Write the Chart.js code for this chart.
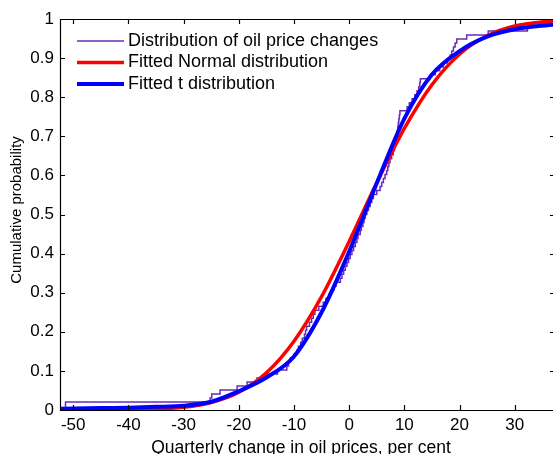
<!DOCTYPE html>
<html>
<head>
<meta charset="utf-8">
<script src="https://cdn.jsdelivr.net/npm/chart.js@4"></script>
<style>
  html, body { margin: 0; padding: 0; background: #fff; overflow: hidden; }
  #wrap { width: 558px; height: 454px; }
</style>
</head>
<body>
<div id="wrap"><canvas id="myChart" width="558" height="454"></canvas></div>
<script>
// tick labels
const xTicks = [-50, -40, -30, -20, -10, 0, 10, 20, 30];
const yTicks = [0, 0.1, 0.2, 0.3, 0.4, 0.5, 0.6, 0.7, 0.8, 0.9, 1];

// sorted quarterly changes, per cent
const oilChanges = [
	-51.4, -25.2, -24.9, -23.4, -20.3, -18.5, -16.7, -14.9, -13.0, -11.3,
	-11.0, -10.7, -10.0, -9.5, -9.2, -8.8, -8.5, -8.1, -7.9, -7.7,
	-7.2, -6.8, -6.5, -6.2, -5.5, -4.7, -4.2, -3.7, -3.3, -2.8,
	-2.4, -1.6, -1.3, -1.0, -0.7, -0.4, -0.1, 0.2, 0.5, 0.8,
	1.1, 1.4, 1.6, 2.0, 2.2, 2.5, 2.7, 2.9, 3.2, 3.5,
	3.8, 4.1, 4.4, 5.0, 5.6, 5.9, 6.2, 6.5, 6.8, 7.0,
	7.2, 7.4, 7.7, 8.0, 8.2, 8.3, 8.5, 8.6, 8.7, 8.8,
	8.9, 9.0, 9.1, 9.2, 10.5, 10.9, 11.4, 11.9, 12.3, 12.6,
	12.8, 12.9, 14.7, 15.6, 16.4, 17.1, 17.8, 18.3, 18.6, 18.9,
	19.2, 19.5, 21.3, 25.2, 32.3, 32.5, 38.6, 44.0
];

// fitted curves, read at these x positions
const fitX      = [-52.4, -45, -40, -35, -30, -25, -20, -15, -10, -5, 0, 5, 10, 15, 20, 25, 30, 37.3];
const normalCdf = [0.00002, 0.0002, 0.0007, 0.0024, 0.0072, 0.0193, 0.0456, 0.095, 0.176, 0.290, 0.431, 0.581, 0.720, 0.832, 0.910, 0.957, 0.982, 0.996];
const tCdf      = [0.003, 0.005, 0.006, 0.008, 0.011, 0.021, 0.048, 0.083, 0.137, 0.25, 0.405, 0.58, 0.745, 0.858, 0.918, 0.955, 0.974, 0.986];

const n = oilChanges.length;
const ecdfPts = [{x: oilChanges[0], y: 0}];
oilChanges.forEach((v, i) => ecdfPts.push({x: v, y: (i + 1) / n}));

const FONT = 'Liberation Sans, Arial, sans-serif';

// box, inward ticks, legend and axis titles, matlab style
const matlabFrame = {
	id: 'matlabFrame',
	afterDatasetsDraw(chart) {
		const {ctx, chartArea: a, scales} = chart;
		const sx = scales.x, sy = scales.y;
		ctx.save();
		ctx.strokeStyle = '#000';
		ctx.lineWidth = 1.2;
		ctx.beginPath();
		ctx.rect(a.left + 0.5, a.top + 0.5, a.right - a.left, a.bottom - a.top);
		xTicks.forEach(v => {
			const px = Math.round(sx.getPixelForValue(v)) + 0.5;
			ctx.moveTo(px, a.bottom); ctx.lineTo(px, a.bottom - 5);
			ctx.moveTo(px, a.top); ctx.lineTo(px, a.top + 5);
		});
		yTicks.forEach(v => {
			const py = Math.round(sy.getPixelForValue(v)) + 0.5;
			ctx.moveTo(a.left, py); ctx.lineTo(a.left + 5, py);
			ctx.moveTo(a.right, py); ctx.lineTo(a.right - 5, py);
		});
		ctx.stroke();

		// legend
		ctx.font = '18px ' + FONT;
		ctx.fillStyle = '#000';
		ctx.textBaseline = 'middle';
		ctx.textAlign = 'left';
		chart.data.datasets.forEach((ds, i) => {
			const y = 41 + i * 21.5;
			ctx.strokeStyle = ds.borderColor;
			ctx.lineWidth = ds.legendWidth;
			ctx.beginPath();
			ctx.moveTo(77, y); ctx.lineTo(124, y);
			ctx.stroke();
			ctx.fillText(ds.label, 128, y);
		});

		// axis titles
		ctx.textAlign = 'center';
		ctx.textBaseline = 'alphabetic';
		ctx.font = '17.5px ' + FONT;
		ctx.fillText('Quarterly change in oil prices, per cent', 301, 453);
		ctx.translate(17, 210);
		ctx.rotate(-Math.PI / 2);
		ctx.font = '15px ' + FONT;
		ctx.textBaseline = 'middle';
		ctx.fillText('Cumulative probability', 0, 0);
		ctx.restore();
	}
};

window.onload = () => {
	const ctx = document.getElementById('myChart').getContext('2d');
	new Chart(ctx, {
		type: 'line',
		data: {
			datasets: [
				{
					label: 'Distribution of oil price changes',
					data: ecdfPts,
					stepped: 'after',
					borderColor: '#6a2bb5',
					borderWidth: 1.5,
					legendWidth: 1.5,
					pointRadius: 0,
					order: 3
				},
				{
					label: 'Fitted Normal distribution',
					data: fitX.map((x, i) => ({x: x, y: normalCdf[i]})),
					cubicInterpolationMode: 'monotone',
					borderColor: '#ff0000',
					borderWidth: 3.5,
					legendWidth: 3.5,
					pointRadius: 0,
					order: 2
				},
				{
					label: 'Fitted t distribution',
					data: fitX.map((x, i) => ({x: x, y: tCdf[i]})),
					cubicInterpolationMode: 'monotone',
					borderColor: '#0000ff',
					borderWidth: 4,
					legendWidth: 4,
					pointRadius: 0,
					order: 1
				}
			]
		},
		options: {
			responsive: false,
			animation: false,
			layout: { padding: { top: 19, right: 3, left: 0, bottom: 0 } },
			plugins: { legend: { display: false }, tooltip: { enabled: false } },
			scales: {
				x: {
					type: 'linear',
					min: -52.4,
					max: 37.3,
					afterBuildTicks: s => { s.ticks = xTicks.map(v => ({value: v})); },
					afterFit: s => { s.height = 44; },
					grid: { display: false, drawTicks: false },
					border: { display: false },
					ticks: { color: '#000', padding: 5, maxRotation: 0, font: { family: FONT, size: 17 },
						callback: v => String(v) }
				},
				y: {
					min: 0,
					max: 1,
					afterBuildTicks: s => { s.ticks = yTicks.map(v => ({value: v})); },
					afterFit: s => { s.width = 60; },
					grid: { display: false, drawTicks: false },
					border: { display: false },
					ticks: { color: '#000', padding: 6, font: { family: FONT, size: 17 },
						callback: v => String(Math.round(v * 10) / 10) }
				}
			}
		},
		plugins: [matlabFrame]
	});
};
</script>
</body>
</html>
